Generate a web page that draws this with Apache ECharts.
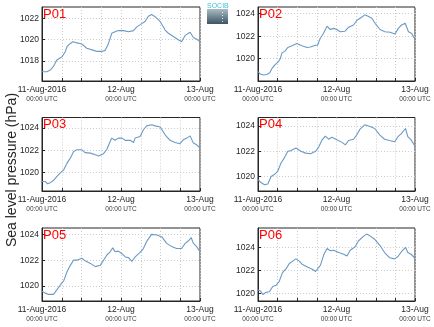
<!DOCTYPE html>
<html><head><meta charset="utf-8">
<script src="https://cdn.jsdelivr.net/npm/echarts@6/dist/echarts.min.js"></script>
<style>html,body{margin:0;padding:0;background:#fff}#c{width:434px;height:327px}</style>
</head><body><div id="c"></div><script>
// ---- data ----
const panelNames = ['P01', 'P02', 'P03', 'P04', 'P05', 'P06'];
const dateLabels = ['11-Aug-2016', '12-Aug', '13-Aug'];
const dateLabelHours = [0, 24, 48];
const timeLabel = '00:00 UTC';
const yAxisTitle = 'Sea level pressure (hPa)';
const logoText = 'SOCIB';

const hoursP01 = [0,1.5,2.5,3.5,4.5,6.1,7.1,7.6,8.6,9.4,10.6,12.1,13.6,15.7,16.7,18.2,19.2,20.2,21.2,22.2,23.2,24.8,26.3,27.8,28.8,30.3,31.3,32.3,33.3,34.4,35.9,37.4,38.4,39.9,41.4,42.4,43.5,45.0,46.0,47.0,48];
const pressureP01 = [1017.0,1017.0,1017.15,1017.5,1018.1,1018.4,1018.9,1019.35,1019.65,1019.8,1019.7,1019.6,1019.2,1019.0,1018.9,1018.9,1019.0,1019.65,1020.6,1020.75,1020.85,1020.85,1020.75,1020.85,1021.2,1021.5,1021.7,1022.2,1022.35,1022.15,1021.7,1020.9,1020.6,1020.3,1020.0,1019.8,1020.4,1020.7,1020.2,1020.05,1019.8];

const hoursP02 = [0,0.7,1.7,2.7,3.6,4.3,5.3,6.3,6.8,7.3,8.3,9.1,10.4,11.9,13.4,15.0,16.0,17.5,18.2,19.0,20.0,21.1,22.1,23.1,24.1,25.1,26.6,27.7,29.2,30.2,31.2,32.7,33.8,34.8,35.8,37.3,38.8,40.4,41.9,42.9,43.9,45.0,46.0,47.0,48];
const pressureP02 = [1018.85,1018.64,1018.55,1018.6,1018.75,1019.15,1019.5,1019.75,1020.0,1020.5,1020.7,1021.0,1021.15,1021.35,1021.15,1021.0,1021.05,1021.2,1021.2,1021.8,1022.25,1022.9,1022.6,1022.7,1022.6,1022.4,1022.45,1022.8,1023.0,1023.4,1023.6,1023.9,1023.75,1023.6,1023.15,1022.6,1022.4,1022.35,1022.2,1022.7,1023.0,1023.15,1022.4,1022.25,1021.7];

const hoursP03 = [0,1.0,1.7,2.5,3.5,4.5,5.6,6.6,7.1,7.6,8.6,9.6,10.6,12.1,13.1,14.7,16.2,17.2,18.7,19.7,20.7,21.2,22.2,23.2,24.3,25.3,26.8,27.8,28.3,29.8,30.8,31.8,33.3,34.4,35.9,37.4,38.9,40.4,41.9,42.9,44.0,45.0,46.0,47.0,48];
const pressureP03 = [1019.2,1019.2,1019.0,1019.1,1019.3,1019.65,1020.0,1020.25,1020.4,1020.85,1021.3,1021.9,1022.05,1022.05,1021.8,1021.75,1021.6,1021.5,1021.7,1022.1,1022.8,1023.1,1022.9,1023.1,1023.1,1022.9,1022.9,1022.7,1023.1,1023.25,1023.85,1024.2,1024.3,1024.2,1024.1,1023.4,1022.9,1022.7,1022.6,1022.95,1023.1,1023.3,1022.65,1022.5,1022.2];

const hoursP04 = [0,1.0,2.0,3.0,4.0,5.0,6.0,7.0,8.0,9.1,10.1,11.6,13.1,14.6,16.1,17.6,18.6,19.6,20.6,21.6,22.6,24.1,25.7,26.7,27.7,29.2,30.2,31.2,32.7,34.2,35.7,37.2,38.7,40.2,41.8,42.8,43.8,45.1,45.8,46.8,48];
const pressureP04 = [1019.75,1019.5,1019.35,1019.4,1020.0,1020.15,1020.4,1021.05,1021.45,1022.0,1022.05,1022.25,1022.0,1021.85,1021.8,1022.0,1022.35,1022.9,1023.2,1022.95,1023.1,1022.9,1022.7,1022.5,1022.85,1022.95,1023.3,1023.75,1024.1,1023.95,1023.8,1023.3,1022.95,1022.85,1022.75,1023.15,1023.4,1023.8,1023.15,1022.9,1022.4];

const hoursP05 = [0,1.0,2.0,3.5,4.5,5.6,6.6,7.6,8.6,9.6,10.6,12.1,13.1,14.7,16.2,17.7,18.7,19.7,20.7,21.5,22.2,23.2,24.3,25.3,26.3,27.3,28.3,29.8,30.8,31.8,33.3,34.9,36.4,37.9,39.4,40.9,42.4,43.5,44.5,45.3,46.0,47.0,48];
const pressureP05 = [1019.6,1019.45,1019.35,1019.35,1019.7,1020.1,1020.4,1021.1,1021.6,1022.0,1022.0,1022.15,1021.95,1021.75,1021.5,1021.6,1022.0,1022.4,1022.65,1022.95,1022.65,1022.7,1022.5,1022.25,1022.2,1021.9,1022.25,1022.6,1022.9,1023.45,1024.0,1023.95,1023.8,1023.3,1023.05,1022.9,1022.9,1023.3,1023.5,1023.75,1023.3,1023.05,1022.65];

const hoursP06 = [0,0.8,1.5,2.5,3.5,4.5,5.5,6.5,7.5,8.6,9.6,10.6,11.6,12.6,13.6,15.1,16.6,17.6,18.1,19.1,20.1,21.1,22.1,23.1,24.7,26.2,27.2,28.2,29.7,30.7,32.2,33.2,34.2,35.7,37.2,38.7,40.2,41.8,42.8,43.8,45.1,45.8,46.8,48];
const pressureP06 = [1020.3,1020.2,1019.9,1020.1,1020.15,1020.6,1020.7,1021.05,1021.8,1022.15,1022.6,1022.8,1023.0,1022.8,1022.5,1022.3,1022.1,1021.9,1021.95,1022.45,1023.35,1023.9,1023.7,1023.75,1023.55,1023.4,1023.25,1023.75,1024.05,1024.55,1024.95,1025.15,1025.0,1024.7,1024.2,1023.55,1023.1,1023.0,1023.2,1023.6,1024.0,1023.55,1023.4,1023.05];

const yTicksP01 = [1018, 1020, 1022];
const yTicksP02 = [1020, 1022, 1024];
const yTicksP03 = [1020, 1022, 1024];
const yTicksP04 = [1020, 1022, 1024];
const yTicksP05 = [1020, 1022, 1024];
const yTicksP06 = [1020, 1022, 1024];

const yMinP = [1016.13, 1018.02, 1018.35, 1018.85, 1018.84, 1019.34];
const yMaxP = [1023.06, 1024.6, 1024.95, 1024.67, 1024.49, 1025.68];

// ---- assembly ----
const hoursAll = [hoursP01, hoursP02, hoursP03, hoursP04, hoursP05, hoursP06];
const pressAll = [pressureP01, pressureP02, pressureP03, pressureP04, pressureP05, pressureP06];
const ticksAll = [yTicksP01, yTicksP02, yTicksP03, yTicksP04, yTicksP05, yTicksP06];

const layout = [
  {left: 42, top: 7, width: 158, height: 74},
  {left: 258, top: 7, width: 157, height: 74},
  {left: 42, top: 117.5, width: 158, height: 73.5},
  {left: 258, top: 117.5, width: 157, height: 73.5},
  {left: 42, top: 228, width: 158, height: 73},
  {left: 258, top: 228, width: 157, height: 73}
];

const FONT = 'Liberation Sans';
const AX = '#262626';
const GRIDC = '#cccccc';
const grids = [], xAxes = [], yAxes = [], series = [], graphics = [];

layout.forEach((g, i) => {
  grids.push({left: g.left, top: g.top, width: g.width, height: g.height, show: true,
    borderColor: AX, borderWidth: 1, backgroundColor: '#fff', containLabel: false});
  xAxes.push({
    type: 'value', gridIndex: i, min: 0, max: 48, interval: 6,
    axisLine: {show: true, onZero: false, lineStyle: {color: AX, width: 1}},
    axisTick: {show: true, inside: true, length: 3, lineStyle: {color: AX}},
    splitLine: {show: true, lineStyle: {color: GRIDC, type: [1, 2], width: 1}},
    axisLabel: {
      show: true, margin: 3, showMinLabel: true, showMaxLabel: true, hideOverlap: false,
      fontFamily: FONT,
      formatter: function (v) {
        const k = dateLabelHours.indexOf(v);
        if (k < 0) return '';
        return '{a|' + dateLabels[k] + '}\n{b|' + timeLabel + '}';
      },
      rich: {
        a: {fontSize: 8.5, lineHeight: 11, color: AX, fontFamily: FONT},
        b: {fontSize: 6.5, lineHeight: 9, color: '#3a3a3a', fontFamily: FONT}
      }
    }
  });
  yAxes.push({
    type: 'value', gridIndex: i, min: yMinP[i], max: yMaxP[i],
    axisLine: {show: true, lineStyle: {color: AX, width: 1}},
    axisTick: {show: true, inside: true, length: 3, customValues: ticksAll[i], lineStyle: {color: AX}},
    axisLabel: {show: true, customValues: ticksAll[i], fontSize: 8.5, color: AX, margin: 3, fontFamily: FONT,
      formatter: function (v) { return String(Math.round(v)); }},
    splitLine: {show: true, lineStyle: {color: GRIDC, type: [1, 2], width: 1}}
  });
  series.push({
    type: 'line', xAxisIndex: i, yAxisIndex: i, showSymbol: false, symbol: 'none',
    data: hoursAll[i].map((h, j) => [h, pressAll[i][j]]),
    lineStyle: {color: '#6b9ac4', width: 1.1}, clip: true, animation: false
  });
  graphics.push({
    type: 'text', left: g.left + 1, top: g.top + 0.5, z: 100,
    style: {text: panelNames[i], fill: '#ff0000', fontSize: 13, fontFamily: FONT}
  });
});

graphics.push({
  type: 'text', x: 12, y: 170, rotation: Math.PI / 2,
  style: {text: yAxisTitle, fill: AX, fontSize: 14, fontFamily: FONT, align: 'center', verticalAlign: 'middle'}
});
graphics.push({
  type: 'rect', shape: {x: 207, y: 9, width: 21, height: 15},
  style: {fill: new echarts.graphic.LinearGradient(0, 0, 0, 1, [
    {offset: 0, color: '#a9bcc4'}, {offset: 1, color: '#3d5564'}])}
});
graphics.push({
  type: 'line', shape: {x1: 222.5, y1: 12, x2: 222.5, y2: 23},
  style: {stroke: '#ffffff', lineWidth: 1, lineDash: [1, 2], opacity: 0.8}
});
graphics.push({
  type: 'text', x: 207, y: 3,
  style: {text: logoText, fill: '#3fc4dc', fontSize: 7, fontFamily: FONT}
});

const chart = echarts.init(document.getElementById('c'), null, {renderer: 'canvas'});
chart.setOption({
  animation: false,
  backgroundColor: '#fff',
  grid: grids, xAxis: xAxes, yAxis: yAxes, series: series, graphic: graphics
});
</script></body></html>
